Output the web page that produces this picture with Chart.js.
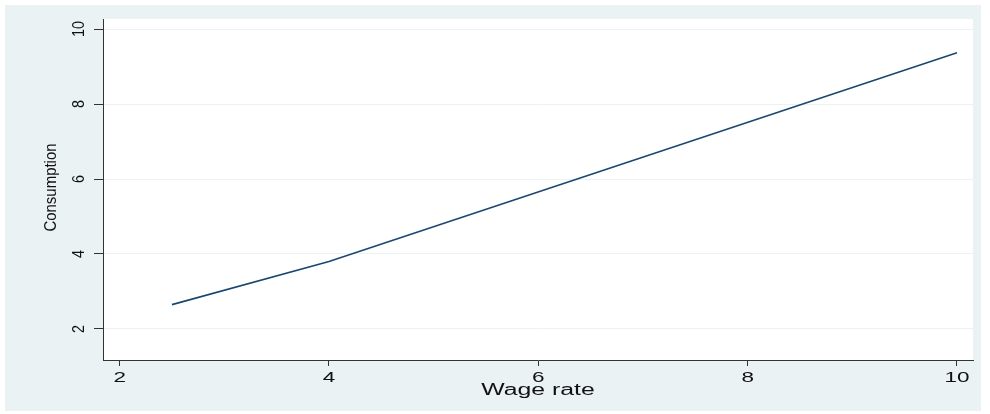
<!DOCTYPE html>
<html>
<head>
<meta charset="utf-8">
<script src="https://cdn.jsdelivr.net/npm/chart.js@4.4.1/dist/chart.umd.min.js"></script>
<style>
  html, body { margin: 0; padding: 0; background: #ffffff; }
  #wrap {
    position: absolute; left: 5px; top: 5px;
    width: 976px; height: 406px;
    background: #eaf2f3;
  }
  #chart { display: block; }
</style>
</head>
<body>
<div id="wrap"><canvas id="chart" width="976" height="406"></canvas></div>
<script>
// ── Data ──────────────────────────────────────────────────────
const wageRate    = [2.5, 4, 10];
const consumption = [2.65, 3.8, 9.37];

const xTicks = [2, 4, 6, 8, 10];
const yTicks = [2, 4, 6, 8, 10];

const xTitle = 'Wage rate';
const yTitle = 'Consumption';

const INK  = '#1a476f';
const AXIS = '#333333';
const GRID = '#eaf2f3';
const FONT = '"Liberation Sans", Arial, Helvetica, sans-serif';

// ── Plot area fill + axis text (wide x labels, rotated y labels) ──
const stataText = {
  id: 'stataText',
  beforeDraw: function (chart) {
    const a = chart.chartArea, c = chart.ctx;
    c.save();
    c.fillStyle = '#ffffff';
    c.fillRect(a.left, a.top, a.right - a.left, a.bottom - a.top);
    c.restore();
  },
  afterDraw: function (chart) {
    const c = chart.ctx, a = chart.chartArea;
    const sx = chart.scales.x, sy = chart.scales.y;
    c.save();
    c.fillStyle = '#111111';
    c.textAlign = 'center';
    c.textBaseline = 'alphabetic';

    // x tick labels
    c.font = '15px ' + FONT;
    xTicks.forEach(function (v) {
      c.save();
      c.translate(sx.getPixelForValue(v), 377);
      c.scale(1.5, 1);
      c.fillText(String(v), 0, 0);
      c.restore();
    });

    // x title
    c.font = '16px ' + FONT;
    c.save();
    c.translate((a.left + a.right) / 2, 390);
    c.scale(1.55, 1);
    c.fillText(xTitle, 0, 0);
    c.restore();

    // y tick labels, reading bottom to top
    c.font = '16px ' + FONT;
    yTicks.forEach(function (v) {
      c.save();
      c.translate(79, sy.getPixelForValue(v));
      c.rotate(-Math.PI / 2);
      c.scale(0.9, 1);
      c.fillText(String(v), 0, 0);
      c.restore();
    });

    // y title
    c.font = '17px ' + FONT;
    c.save();
    c.translate(50.5, (a.top + a.bottom) / 2 - 2);
    c.rotate(-Math.PI / 2);
    c.scale(0.88, 1);
    c.fillText(yTitle, 0, 0);
    c.restore();

    c.restore();
  }
};

new Chart(document.getElementById('chart'), {
  type: 'line',
  data: {
    datasets: [{
      data: wageRate.map(function (w, i) { return { x: w, y: consumption[i] }; }),
      borderColor: INK,
      borderWidth: 1.6,
      pointRadius: 0,
      tension: 0,
      fill: false
    }]
  },
  options: {
    responsive: false,
    animation: false,
    layout: { padding: { left: 0, right: 8, top: 14, bottom: 0 } },
    plugins: { legend: { display: false }, tooltip: { enabled: false } },
    scales: {
      x: {
        type: 'linear',
        min: 1.841,
        max: 10.153,
        afterBuildTicks: function (s) { s.ticks = xTicks.map(function (v) { return { value: v }; }); },
        afterFit: function (s) { s.height = 51; },
        ticks: { display: false },
        grid: { drawOnChartArea: false, drawTicks: true, tickLength: 6, tickColor: AXIS, tickWidth: 1 },
        border: { display: true, color: AXIS, width: 1 }
      },
      y: {
        type: 'linear',
        min: 1.173,
        max: 10.267,
        afterBuildTicks: function (s) { s.ticks = yTicks.map(function (v) { return { value: v }; }); },
        afterFit: function (s) { s.width = 98; },
        ticks: { display: false },
        grid: { color: GRID, lineWidth: 1, drawTicks: true, tickLength: 9, tickColor: AXIS, tickWidth: 1 },
        border: { display: true, color: AXIS, width: 1 }
      }
    }
  },
  plugins: [stataText]
});
</script>
</body>
</html>
